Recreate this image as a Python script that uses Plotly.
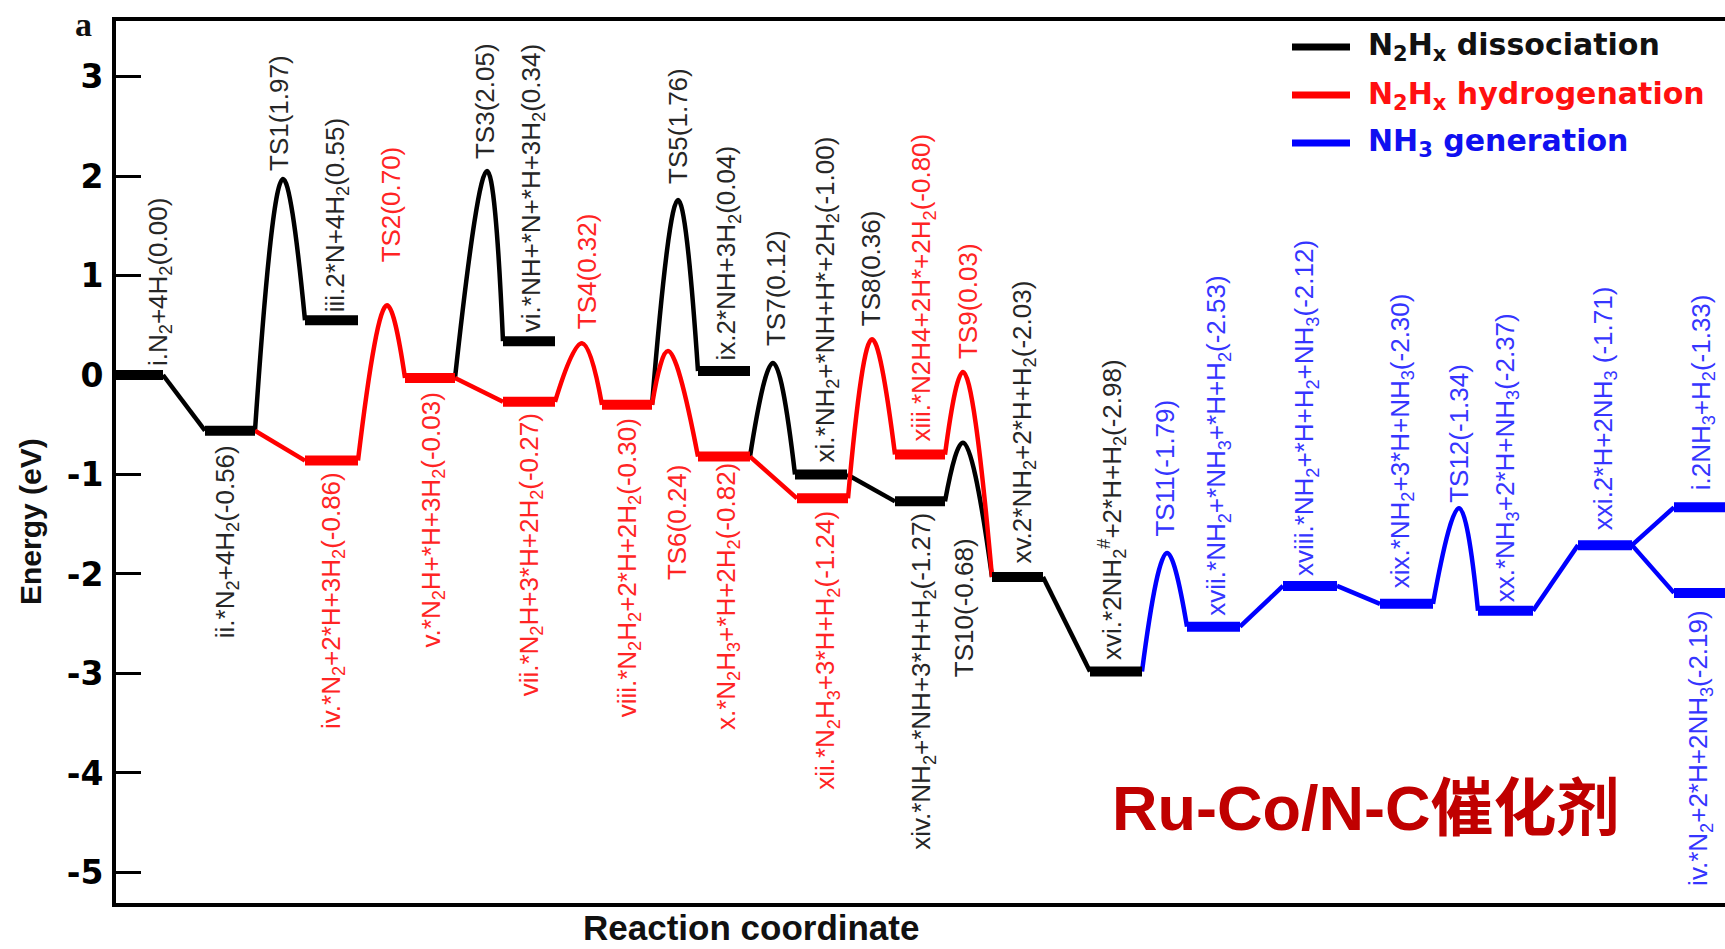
import plotly.graph_objects as go

# ------------------------------------------------------------------ data
# intermediates (plateaus)
state_ids = ["i", "ii", "iii", "iv", "v", "vi", "vii", "viii", "ix", "x", "xi", "xii",
             "xiii", "xiv", "xv", "xvi", "xvii", "xviii", "xix", "xx", "xxi", "i_f", "iv_f"]
state_labels = [
    "i.N<sub>2</sub>+4H<sub>2</sub>(0.00)",
    "ii.*N<sub>2</sub>+4H<sub>2</sub>(-0.56)",
    "iii.2*N+4H<sub>2</sub>(0.55)",
    "iv.*N<sub>2</sub>+2*H+3H<sub>2</sub>(-0.86)",
    "v.*N<sub>2</sub>H+*H+3H<sub>2</sub>(-0.03)",
    "vi.*NH+*N+*H+3H<sub>2</sub>(0.34)",
    "vii.*N<sub>2</sub>H+3*H+2H<sub>2</sub>(-0.27)",
    "viii.*N<sub>2</sub>H<sub>2</sub>+2*H+2H<sub>2</sub>(-0.30)",
    "ix.2*NH+3H<sub>2</sub>(0.04)",
    "x.*N<sub>2</sub>H<sub>3</sub>+*H+2H<sub>2</sub>(-0.82)",
    "xi.*NH<sub>2</sub>+*NH+H*+2H<sub>2</sub>(-1.00)",
    "xii.*N<sub>2</sub>H<sub>3</sub>+3*H+H<sub>2</sub>(-1.24)",
    "xiii.*N2H4+2H*+2H<sub>2</sub>(-0.80)",
    "xiv.*NH<sub>2</sub>+*NH+3*H+H<sub>2</sub>(-1.27)",
    "xv.2*NH<sub>2</sub>+2*H+H<sub>2</sub>(-2.03)",
    "xvi.*2NH<sub>2</sub><sup>#</sup>+2*H+H<sub>2</sub>(-2.98)",
    "xvii.*NH<sub>2</sub>+*NH<sub>3</sub>+*H+H<sub>2</sub>(-2.53)",
    "xviii.*NH<sub>2</sub>+*H+H<sub>2</sub>+NH<sub>3</sub>(-2.12)",
    "xix.*NH<sub>2</sub>+3*H+NH<sub>3</sub>(-2.30)",
    "xx.*NH<sub>3</sub>+2*H+NH<sub>3</sub>(-2.37)",
    "xxi.2*H+2NH<sub>3</sub> (-1.71)",
    "i.2NH<sub>3</sub>+H<sub>2</sub>(-1.33)",
    "iv.*N<sub>2</sub>+2*H+2NH<sub>3</sub>(-2.19)",
]
state_energy = [0.00, -0.56, 0.55, -0.86, -0.03, 0.34, -0.27, -0.30, 0.04, -0.82, -1.00, -1.24,
                -0.80, -1.27, -2.03, -2.98, -2.53, -2.12, -2.30, -2.37, -1.71, -1.33, -2.19]
state_start = [116, 205, 305, 305, 405, 503, 503, 602, 698, 698, 795, 797,
               895, 895, 992, 1090, 1187, 1283, 1380, 1478, 1578, 1674, 1674]
state_end = [163, 255, 358, 358, 455, 555, 555, 652, 750, 750, 847, 848,
             945, 945, 1043, 1142, 1240, 1337, 1433, 1533, 1632, 1735, 1735]
state_path = ["diss", "diss", "diss", "hyd", "hyd", "diss", "hyd", "hyd", "diss", "hyd", "diss", "hyd",
              "hyd", "diss", "diss", "diss", "nh3", "nh3", "nh3", "nh3", "nh3", "nh3", "nh3"]

# transition states
ts_labels = ["TS1(1.97)", "TS2(0.70)", "TS3(2.05)", "TS4(0.32)", "TS5(1.76)", "TS6(0.24)",
             "TS7(0.12)", "TS8(0.36)", "TS9(0.03)", "TS10(-0.68)", "TS11(-1.79)", "TS12(-1.34)"]
ts_energy = [1.97, 0.70, 2.05, 0.32, 1.76, 0.24, 0.12, 0.36, 0.03, -0.68, -1.79, -1.34]
ts_x = [283, 387, 487, 582, 678, 668, 773, 872, 963, 963, 1167, 1459]
ts_from = ["ii", "iv", "v", "vii", "viii", "viii", "x", "xii", "xiii", "xiv", "xvi", "xix"]
ts_to = ["iii", "v", "vi", "viii", "ix", "x", "xi", "xiii", "xv", "xv", "xvii", "xx"]
ts_path = ["diss", "hyd", "diss", "hyd", "diss", "hyd", "diss", "hyd", "hyd", "diss", "nh3", "nh3"]

# barrier-less steps
step_from = ["i", "ii", "v", "x", "xi", "xv", "xvii", "xviii", "xx", "xxi", "xxi"]
step_to = ["ii", "iv", "vii", "xii", "xiv", "xvi", "xviii", "xix", "xxi", "i_f", "iv_f"]
step_path = ["diss", "hyd", "hyd", "hyd", "diss", "diss", "nh3", "nh3", "nh3", "nh3", "nh3"]

legend_names = ["N<sub>2</sub>H<sub>x</sub> dissociation",
                "N<sub>2</sub>H<sub>x</sub> hydrogenation",
                "NH<sub>3</sub> generation"]
legend_keys = ["diss", "hyd", "nh3"]
y_ticks = [-5, -4, -3, -2, -1, 0, 1, 2, 3]

# ------------------------------------------------------------------ styling
line_col = {"diss": "#000000", "hyd": "#ff0000", "nh3": "#0000ff"}
text_col = {"k": "#262626", "r": "#ff2424", "b": "#3535ff"}
legend_text_col = {"diss": "#111111", "hyd": "#ff1010", "nh3": "#1010f0"}

# label placement: (x centre, side, gap px, colour)
state_lab_pos = {
    "i": (160, "up", 8, "k"), "ii": (226, "dn", 14, "k"), "iii": (336, "up", 7, "k"),
    "iv": (332, "dn", 11, "r"), "v": (432, "dn", 14, "r"), "vi": (532, "up", 8, "k"),
    "vii": (530, "dn", 11, "r"), "viii": (628, "dn", 13, "r"), "ix": (728, "up", 9, "k"),
    "x": (727, "dn", 6, "r"), "xi": (826, "up", 11, "k"), "xii": (827, "dn", 12, "r"),
    "xiii": (923, "up", 12, "r"), "xiv": (923, "dn", 11, "k"), "xv": (1023, "up", 12, "k"),
    "xvi": (1112, "up", 10, "k"), "xvii": (1218, "up", 10, "b"), "xviii": (1306, "up", 9, "b"),
    "xix": (1401, "up", 14, "b"), "xx": (1506, "up", 7, "b"), "xxi": (1604, "up", 14, "b"),
    "i_f": (1702, "up", 16, "b"), "iv_f": (1700, "dn", 16, "b"),
}
ts_lab_pos = [(279, "up", 7, "k"), (391, "up", 42, "r"), (485, "up", 11, "k"),
              (587, "up", 13, "r"), (678, "up", 15, "k"), (677, "dn", 112, "r"),
              (776, "up", 16, "k"), (871, "up", 12, "k"), (968, "up", 12, "r"),
              (964, "dn", 95, "k"), (1165, "up", 15, "b"), (1459, "up", 4, "b")]

W, H = 1725, 949
ML, MR, MT, MB = 116, 0, 21, 46
X0, X1 = 116, 1725
Y_TOP, Y_BOT = 3.558, -5.307


def px_x(px):
    return (px - ML) / (W - ML - MR)


def px_y(py):
    return (H - MB - py) / (H - MT - MB)


idx = {s: k for k, s in enumerate(state_ids)}

fig = go.Figure()

# connectors (TS curves and straight steps), one trace per pathway
for key in legend_keys:
    xs, ys = [], []
    for f, t, p in zip(step_from, step_to, step_path):
        if p != key:
            continue
        a, b = idx[f], idx[t]
        xs += [state_end[a], state_start[b], None]
        ys += [state_energy[a], state_energy[b], None]
    for k in range(len(ts_labels)):
        if ts_path[k] != key:
            continue
        a, b = idx[ts_from[k]], idx[ts_to[k]]
        xs += [state_end[a], ts_x[k], state_start[b], None]
        ys += [state_energy[a], ts_energy[k], state_energy[b], None]
    fig.add_trace(go.Scatter(x=xs, y=ys, mode="lines", hoverinfo="skip",
                             line=dict(color=line_col[key], width=4.5, shape="spline", smoothing=1.15),
                             showlegend=False))

# plateaus
for key in legend_keys:
    xs, ys = [], []
    for k in range(len(state_ids)):
        if state_path[k] != key:
            continue
        xs += [state_start[k], state_end[k], None]
        ys += [state_energy[k], state_energy[k], None]
    fig.add_trace(go.Scatter(x=xs, y=ys, mode="lines", hoverinfo="skip",
                             line=dict(color=line_col[key], width=10),
                             showlegend=False))

annotations = []
lab_font = "Liberation Sans, Arial, sans-serif"


def add_label(text, x, y, side, gap, col):
    annotations.append(dict(
        x=x, y=y, xref="x", yref="y", text=text, showarrow=False, textangle=-90,
        xanchor="center", yanchor="bottom" if side == "up" else "top",
        yshift=gap if side == "up" else -gap, borderpad=0,
        font=dict(family=lab_font, size=26, color=text_col[col])))


for k, s in enumerate(state_ids):
    x, side, gap, col = state_lab_pos[s]
    add_label(state_labels[k], x, state_energy[k], side, gap, col)
for k in range(len(ts_labels)):
    x, side, gap, col = ts_lab_pos[k]
    add_label(ts_labels[k], x, ts_energy[k], side, gap, col)

# legend (drawn manually)
shapes = []
leg_y = [47, 95, 143]
for k, key in enumerate(legend_keys):
    shapes.append(dict(type="line", xref="paper", yref="paper",
                       x0=px_x(1292), x1=px_x(1350), y0=px_y(leg_y[k]), y1=px_y(leg_y[k]),
                       line=dict(color=line_col[key], width=7)))
    annotations.append(dict(x=px_x(1366), y=px_y(leg_y[k]), xref="paper", yref="paper",
                            text=legend_names[k], showarrow=False, xanchor="left", yanchor="middle",
                            font=dict(family="DejaVu Sans, sans-serif", size=30, weight="bold",
                                      color=legend_text_col[key])))

# catalyst name
annotations.append(dict(x=px_x(1110), y=px_y(808), xref="paper", yref="paper",
                        text="Ru-Co/N-C催化剂", showarrow=False, xanchor="left", yanchor="middle",
                        font=dict(family="Liberation Sans, Noto Sans CJK SC, sans-serif", size=63,
                                  weight="bold", color="#c00000")))
# panel letter
annotations.append(dict(x=px_x(83), y=px_y(24), xref="paper", yref="paper", text="a",
                        showarrow=False, xanchor="center", yanchor="middle",
                        font=dict(family="Liberation Serif, serif", size=34, weight="bold",
                                  color="#111111")))
# axis titles
annotations.append(dict(x=px_x(30), y=px_y(522), xref="paper", yref="paper", text="Energy (eV)",
                        showarrow=False, textangle=-90, xanchor="center", yanchor="middle",
                        font=dict(family="Liberation Sans, Arial, sans-serif", size=30,
                                  weight="bold", color="#111111")))
annotations.append(dict(x=px_x(751), y=px_y(927), xref="paper", yref="paper",
                        text="Reaction coordinate", showarrow=False, xanchor="center",
                        yanchor="middle",
                        font=dict(family="Liberation Sans, Arial, sans-serif", size=35,
                                  weight="bold", color="#111111")))

fig.update_layout(
    width=W, height=H, margin=dict(l=ML, r=MR, t=MT, b=MB, pad=0),
    paper_bgcolor="white", plot_bgcolor="white",
    annotations=annotations, shapes=shapes, showlegend=False,
    xaxis=dict(range=[X0, X1], showline=True, linewidth=4, linecolor="black", mirror=True,
               showticklabels=False, ticks="", showgrid=False, zeroline=False, fixedrange=True),
    yaxis=dict(range=[Y_BOT, Y_TOP], tickvals=y_ticks, ticktext=[str(v) for v in y_ticks],
               ticks="inside", ticklen=25, tickwidth=3, tickcolor="black",
               showline=True, linewidth=4, linecolor="black", mirror=False,
               showgrid=False, zeroline=False, fixedrange=True, ticklabelstandoff=2,
               tickfont=dict(family="DejaVu Sans, sans-serif", size=33, weight="bold",
                             color="black")),
)

fig.write_html("out.html", config={"displayModeBar": False})
